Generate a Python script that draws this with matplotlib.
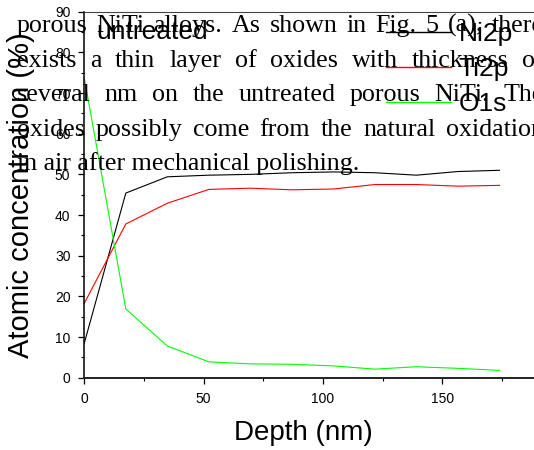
import matplotlib
matplotlib.use('Agg')
import matplotlib.pyplot as plt
from matplotlib.ticker import MultipleLocator

# ---- data ----
depth = [0, 17.4, 34.8, 52.2, 69.6, 87.0, 104.4, 121.8, 139.2, 156.6, 174.0]
ni2p = [8.5, 45.4, 49.4, 49.8, 50.0, 50.4, 50.6, 50.4, 49.8, 50.7, 51.0]
ti2p = [18.3, 37.8, 42.9, 46.3, 46.6, 46.2, 46.4, 47.5, 47.5, 47.1, 47.3]
o1s = [73.7, 16.9, 7.8, 3.9, 3.4, 3.3, 2.9, 2.1, 2.7, 2.3, 1.8]
series_names = ['Ni2p', 'Ti2p', 'O1s']
series_colors = ['#000000', '#ff0000', '#00ff00']
xticks = [0, 50, 100, 150]
yticks = [0, 10, 20, 30, 40, 50, 60, 70, 80, 90]
sample_label = 'untreated'
x_label = 'Depth (nm)'
y_label = 'Atomic concentration (%)'
overlay_lines = [
    'porous NiTi alloys. As shown in Fig. 5 (a), there',
    'exists a thin layer of oxides with thickness of',
    'several nm on the untreated porous NiTi. The',
    'oxides possibly come from the natural oxidation',
    'in air after mechanical polishing.',
]

W, H = 534, 450
fig = plt.figure(figsize=(W / 100, H / 100), dpi=100)
sans = ['Liberation Sans', 'DejaVu Sans']
serif = ['Liberation Serif', 'DejaVu Serif']

left_px, top_px, bottom_px = 84.3, 11.7, 377.7
ax = fig.add_axes([left_px / W, 1 - bottom_px / H, 1 - left_px / W, (bottom_px - top_px) / H])

for vals, name, col in zip([ni2p, ti2p, o1s], series_names, series_colors):
    ax.plot(depth, vals, color=col, lw=0.8, label=name)

ax.set_xlim(0, (W - left_px) / 119.3 * 50)
ax.set_ylim(0, 90)
ax.set_xticks(xticks)
ax.set_yticks(yticks)
ax.xaxis.set_minor_locator(MultipleLocator(25))
ax.yaxis.set_minor_locator(MultipleLocator(5))
ax.tick_params(which='major', direction='out', length=4.5, width=0.9, labelsize=10, pad=5.5)
ax.tick_params(which='minor', direction='out', length=2.3, width=0.8)
for lab in ax.get_xticklabels() + ax.get_yticklabels():
    lab.set_family(sans)
ax.spines['right'].set_visible(False)
ax.spines['left'].set_linewidth(1.1)
ax.spines['bottom'].set_linewidth(1.4)
ax.spines['bottom'].set_color('#222222')
ax.spines['top'].set_linewidth(0.8)
ax.spines['top'].set_color('#444444')

ax.set_xlabel(x_label, fontsize=20, family=sans)
ax.xaxis.set_label_coords((303.5 - left_px) / (W - left_px), -(440 - bottom_px) / (bottom_px - top_px))
ax.xaxis.label.set_va('baseline')
ax.set_ylabel(y_label, fontsize=21, family=sans)
ax.yaxis.set_label_coords(-(left_px - 21) / (W - left_px), 0.5)
ax.yaxis.label.set_va('center')

leg = ax.legend(loc='upper left', bbox_to_anchor=(386 / W, 1 - 22 / H), bbox_transform=fig.transFigure,
                frameon=False, prop={'family': sans, 'size': 19}, handlelength=2.45,
                handletextpad=0.3, labelspacing=0.42, borderpad=0, borderaxespad=0)
for h in leg.get_lines():
    h.set_linewidth(1.0)

fig.text(96 / W, 1 - 39.3 / H, sample_label, fontsize=19, family=sans, va='baseline', ha='left')

# overlaid paragraph text (justified lines)
renderer = fig.canvas.get_renderer()
x0, x1 = 16.7, 544.0
for i, line in enumerate(overlay_lines):
    yb = 1 - (32.0 + 34.6 * i) / H
    words = line.split(' ')
    if i == len(overlay_lines) - 1:
        fig.text(x0 / W, yb, line, fontsize=18.7, family=serif, va='baseline', ha='left', zorder=10)
        continue
    texts = [fig.text(0, yb, w, fontsize=18.7, family=serif, va='baseline', ha='left', zorder=10) for w in words]
    widths = [t.get_window_extent(renderer).width for t in texts]
    gap = (x1 - x0 - sum(widths)) / (len(words) - 1)
    x = x0
    for t, w in zip(texts, widths):
        t.set_x(x / W)
        x += w + gap

fig.savefig('out.png', dpi=100)
